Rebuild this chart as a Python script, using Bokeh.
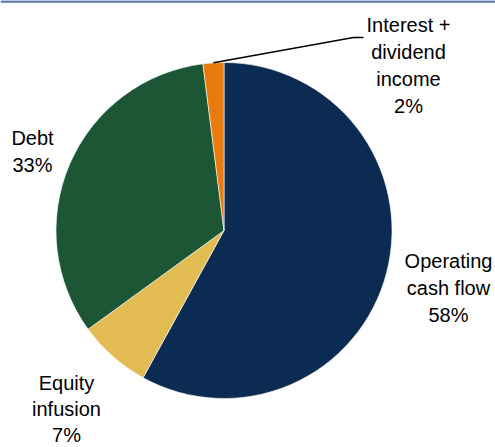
import math
from bokeh.plotting import figure
from bokeh.models import Range1d, Span, ColumnDataSource
from bokeh.core.properties import value
from bokeh.embed import file_html
from bokeh.resources import INLINE

# ---- data ----
categories = ["Operating\ncash flow", "Equity\ninfusion", "Debt", "Interest +\ndividend\nincome"]
shares = [58, 7, 33, 2]
colors = ["#0c2b52", "#e2bb52", "#1d5635", "#e97a0c"]

# ---- layout (pixel space, y measured upward) ----
W, H = 495, 447
cx, cy, r = 223.5, H - 230, 168
FONT = "Liberation Sans"
FS = 20
SHIFT = 8  # renderer baseline correction
# label anchor: centre x, baseline of first line (pixel y from top)
label_pos = [(448, 268), (66, 390), (32, 145), (408, 32)]
label_lh = [27, 26, 27, 27]

p = figure(width=W, height=H, output_backend="svg", toolbar_location=None,
           x_range=Range1d(0, W), y_range=Range1d(0, H), min_border=0,
           outline_line_color=None, background_fill_color="white",
           border_fill_color="white")
p.axis.visible = False
p.grid.visible = False

total = sum(shares)
start = math.pi / 2
starts, ends, mids = [], [], []
for s in shares:
    sweep = 2 * math.pi * s / total
    starts.append(start)
    ends.append(start - sweep)
    mids.append(start - sweep / 2)
    start -= sweep

src = ColumnDataSource(dict(x=[cx] * len(shares), y=[cy] * len(shares),
                            start=starts, end=ends, color=colors))
p.wedge(x="x", y="y", radius=r, start_angle="start", end_angle="end",
        direction="clock", fill_color="color", line_color="white",
        line_width=0.6, source=src)

# labels
tx, ty, tt = [], [], []
for lab, s, (lx, ly), lh in zip(categories, shares, label_pos, label_lh):
    lines = lab.split("\n") + [f"{s}%"]
    for i, t in enumerate(lines):
        tx.append(lx)
        ty.append(H - (ly - SHIFT + i * lh))
        tt.append(t)
p.text(x=tx, y=ty, text=tt, text_align="center", text_baseline="alphabetic",
       text_font=value(FONT), text_font_size=f"{FS}px", text_color="#000000")

# leader line for the small slice
m = mids[3]
sx, sy = cx + r * math.cos(m), cy + r * math.sin(m)
p.line(x=[sx, 353, 363], y=[sy, H - 37, H - 37], line_color="black", line_width=1.5)

# top border
p.add_layout(Span(location=H - 1, dimension="width", line_color="#5b7aa8", line_width=2.5))

open("out.html", "w").write(file_html(p, INLINE))
